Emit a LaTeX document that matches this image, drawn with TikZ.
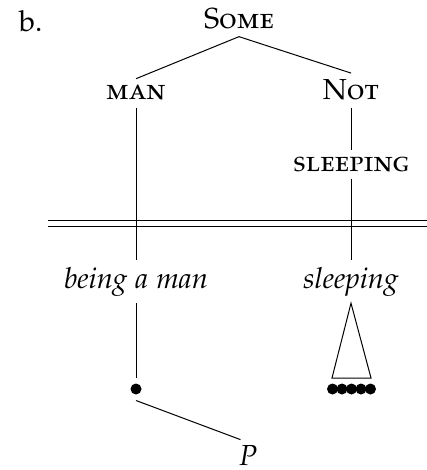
\documentclass[tikz,border=0pt]{standalone}
\usepackage[T1]{fontenc}
\usepackage[sc]{mathpazo}

\begin{document}
\begin{tikzpicture}[x=0.5pt,y=-0.5pt,line width=0.5pt,
  every node/.style={anchor=base,font=\fontsize{14.5}{17}\selectfont},
  dot/.style={circle,fill,anchor=center,inner sep=0pt,minimum size=5.5pt,outer sep=3pt}]
  \useasboundingbox (0,0) rectangle (427,470);

  % upper tree
  \node[anchor=base west] at (12,32) (label) {b.};
  \node at (239,29) (some) {\textsc{Some}};
  \node at (136,100) (man) {\textsc{man}};
  \node at (351,100) (not) {\textsc{Not}};
  \node at (351,171) (sleepsc) {\textsc{sleeping}};

  % the rule between the two levels
  \coordinate (rule west) at (48,223);
  \coordinate (rule east) at (427,223);
  \draw[double,double distance=2.5pt] (rule west) -- (rule east);

  % lower level
  \node at (136,288) (being) {\textit{being a man}};
  \node at (351,288) (sleeping) {\textit{sleeping}};
  \node[dot] at (136,389) (man dot) {};
  \foreach \i in {0,...,4}
    \node[dot] at (332.5+9.5*\i,389) (d\i) {};
  \coordinate (tri west) at (332,378);
  \coordinate (tri east) at (371,378);
  \node[inner sep=1pt] at (248,465) (p) {$P$};

  \draw (some.south) -- (man.north);
  \draw (some.south) -- (not.north);
  \draw (not) -- (sleepsc);
  \draw (man) -- (being);
  \draw (sleepsc) -- (sleeping);
  \draw (being) -- (man dot);
  \draw (sleeping.south) -- (tri west) -- (tri east) -- cycle;
  \draw[shorten >=4pt] (man dot.south) -- (p.north);

\end{tikzpicture}
\end{document}
